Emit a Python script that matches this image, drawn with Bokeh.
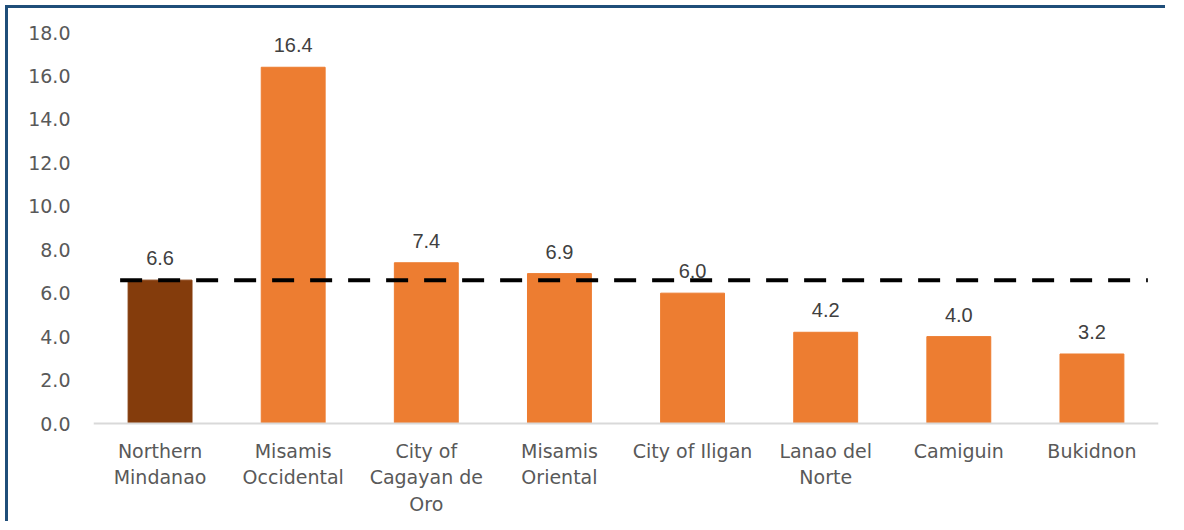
from bokeh.plotting import figure
from bokeh.models import ColumnDataSource, FactorRange, Range1d, FixedTicker, CustomJSTickFormatter, Span
from bokeh.core.properties import value
from bokeh.embed import file_html
from bokeh.resources import INLINE

categories = ["Northern Mindanao", "Misamis Occidental", "City of Cagayan de Oro",
              "Misamis Oriental", "City of Iligan", "Lanao del Norte", "Camiguin", "Bukidnon"]
tick_labels = ["Northern\nMindanao", "Misamis\nOccidental", "City of\nCagayan de\nOro",
               "Misamis\nOriental", "City of Iligan", "Lanao del\nNorte", "Camiguin", "Bukidnon"]
values = [6.6, 16.4, 7.4, 6.9, 6.0, 4.2, 4.0, 3.2]
colors = ["#843C0C"] + ["#ED7D31"] * 7
reference = 6.6
y_ticks = [0, 2, 4, 6, 8, 10, 12, 14, 16, 18]
y_max = 18

# layout (figure pixels): frame top, zero line, frame bottom
W, H = 1160, 516
TOP_PX, ZERO_PX = 24, 415
y_min = -(H - ZERO_PX) * y_max / (ZERO_PX - TOP_PX)

source = ColumnDataSource(dict(
    x=categories, top=values, color=colors,
    label=["%.1f" % v for v in values],
    base=[0] * len(categories), cat_label=tick_labels,
))

p = figure(x_range=FactorRange(*categories, range_padding=0), y_range=Range1d(y_min, y_max),
           width=W, height=H, output_backend="svg", toolbar_location=None,
           min_border_left=85, min_border_right=10, min_border_top=TOP_PX, min_border_bottom=0)
p.styles = {"border-top": "3px solid #1F4E79", "border-left": "3px solid #1F4E79",
            "margin-top": "5px", "margin-left": "5px"}

p.vbar(x="x", top="top", width=0.48, color="color", source=source)
p.add_layout(Span(location=0, dimension="width", line_color="#D9D9D9", line_width=2))

p.text(x="x", y="top", text="label", source=source, text_align="center",
       text_baseline="bottom", y_offset=-15, text_font=value("Liberation Sans"),
       text_font_size="20px", text_color="#404040")

n = len(categories)
p.line(x=[0.2, n - 0.08], y=[reference, reference], line_color="black",
       line_width=4, line_dash="22 16")

p.text(x="x", y="base", text="cat_label", source=source, text_align="center",
       text_baseline="top", y_offset=16, text_font=value("DejaVu Sans"),
       text_font_size="19px", text_color="#595959", text_line_height=1.22)

p.xgrid.visible = False
p.ygrid.visible = False
p.outline_line_color = None
p.xaxis.visible = False

p.yaxis.ticker = FixedTicker(ticks=y_ticks)
p.yaxis.formatter = CustomJSTickFormatter(code="return tick.toFixed(1);")
p.yaxis.axis_line_color = None
p.yaxis.major_tick_line_color = None
p.yaxis.minor_tick_line_color = None
p.yaxis.major_label_text_font = "DejaVu Sans"
p.yaxis.major_label_text_font_size = "19px"
p.yaxis.major_label_text_color = "#595959"
p.yaxis.major_label_standoff = 17

open("out.html", "w").write(file_html(p, INLINE))
